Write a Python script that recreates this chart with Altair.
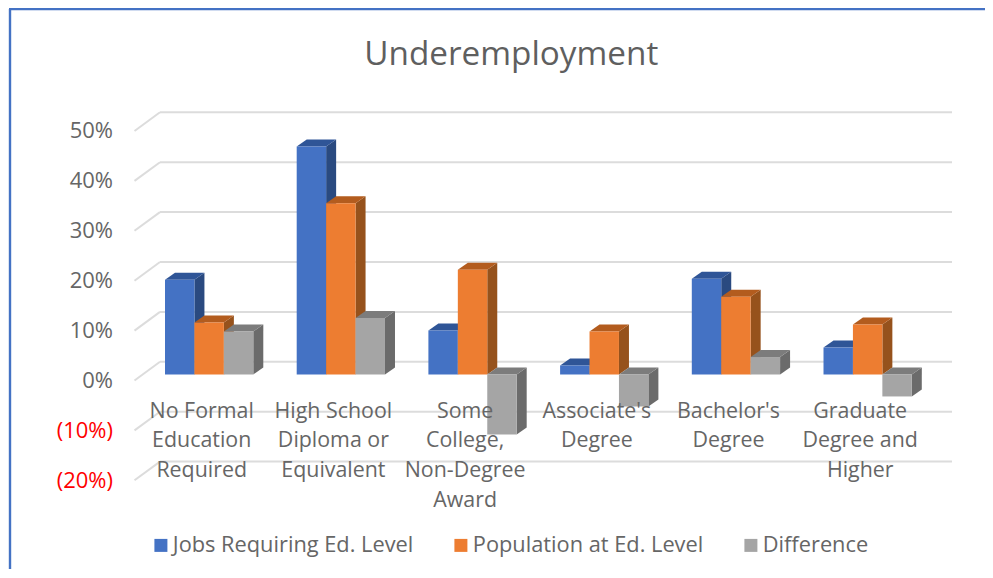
import altair as alt
import pandas as pd

categories = ["No Formal\nEducation\nRequired", "High School\nDiploma or\nEquivalent",
              "Some\nCollege,\nNon-Degree\nAward", "Associate's\nDegree",
              "Bachelor's\nDegree", "Graduate\nDegree and\nHigher"]
series_names = ["Jobs Requiring Ed. Level", "Population at Ed. Level", "Difference"]
jobs = [19.0, 45.7, 8.8, 1.8, 19.2, 5.4]
population = [10.4, 34.3, 21.0, 8.6, 15.6, 10.0]
difference = [8.6, 11.3, -12.0, -6.4, 3.5, -4.4]
grid_levels = [-20, -10, 0, 10, 20, 30, 40, 50]
front_colors = ["#4472C4", "#ED7D31", "#A5A5A5"]
top_colors = ["#2F5597", "#B35C1E", "#7C7C7C"]
side_colors = ["#2A4A80", "#96521C", "#6B6B6B"]

FONT = "Open Sans"
TEXT = "#666666"
W, H = 817.5, 349.3
PAD = dict(left=126.5, top=123, right=33, bottom=89)
PX_X = 131.7          # pixels per category
PX_Y = H / 70         # pixels per percent
x_dom = [(134.5 - 201.7) / PX_X, (952 - 201.7) / PX_X]
y_dom = [-20, 50]
xs = alt.Scale(domain=x_dom, nice=False, zero=False)
ys = alt.Scale(domain=y_dom, nice=False, zero=False)

plane = 6.0 / PX_Y       # bar front sits this far above the axis plane
back = 18.7 / PX_Y       # wall depth in y
wall_dx = 25.5 / PX_X
bar_w = 29.43 / PX_X
dep_x = 10.0 / PX_X
dep_y = 7.0 / PX_Y
group_off = (165 - 201.7) / PX_X

fronts, sides, tops = [], [], []
for s, vals in enumerate([jobs, population, difference]):
    for i, v in enumerate(vals):
        x0 = i + group_off + s * bar_w
        x1 = x0 + bar_w
        lo = min(0, v) + plane
        hi = max(0, v) + plane
        fronts.append(dict(s=s, name=series_names[s], x=x0, x2=x1, y=lo, y2=hi))
        sides += [dict(s=s, bar=i, x=x1, y=lo, y2=hi),
                  dict(s=s, bar=i, x=x1 + dep_x, y=lo + dep_y, y2=hi + dep_y)]
        tops += [dict(s=s, bar=i, x=x0, y=hi, y2=hi),
                 dict(s=s, bar=i, x=x0 + dep_x, y=hi, y2=hi + dep_y),
                 dict(s=s, bar=i, x=x1, y=hi, y2=hi + dep_y),
                 dict(s=s, bar=i, x=x1 + dep_x, y=hi + dep_y, y2=hi + dep_y)]
fronts, sides, tops = map(pd.DataFrame, (fronts, sides, tops))

grid = pd.DataFrame([dict(v=g, yb=g + back, x0=x_dom[0], xb=x_dom[0] + wall_dx, x1=x_dom[1])
                     for g in grid_levels])
slant = alt.Chart(grid).mark_rule(color="#DCDCDC", strokeWidth=2).encode(
    x=alt.X("x0:Q", scale=xs, axis=None), x2="xb:Q",
    y=alt.Y("v:Q", scale=ys, axis=alt.Axis(
        values=grid_levels, title=None, grid=False, domain=False, ticks=False,
        labelPadding=22, labelFontSize=22, labelFont=FONT,
        labelColor=alt.condition("datum.value < 0", alt.value("#FF0000"), alt.value(TEXT)),
        labelExpr="datum.value < 0 ? '(' + abs(datum.value) + '%)\u2009' : datum.value + '%'")),
    y2="yb:Q")
flat = alt.Chart(grid).mark_rule(color="#DCDCDC", strokeWidth=2).encode(
    x=alt.X("xb:Q", scale=xs, axis=None), x2="x1:Q",
    y=alt.Y("yb:Q", scale=ys, axis=None))

layers = [slant, flat]
for s in range(3):
    layers.append(alt.Chart(sides[sides.s == s]).mark_area(color=side_colors[s], interpolate="linear").encode(
        x=alt.X("x:Q", scale=xs, axis=None), y=alt.Y("y:Q", scale=ys, axis=None), y2="y2:Q", detail="bar:N"))
    layers.append(alt.Chart(tops[tops.s == s]).mark_area(color=top_colors[s], interpolate="linear").encode(
        x=alt.X("x:Q", scale=xs, axis=None), y=alt.Y("y:Q", scale=ys, axis=None), y2="y2:Q", detail="bar:N"))
    layers.append(alt.Chart(fronts[fronts.s == s]).mark_rect().encode(
        x=alt.X("x:Q", scale=xs, axis=None), x2="x2:Q",
        y=alt.Y("y:Q", scale=ys, axis=None), y2="y2:Q",
        color=alt.Color("name:N", scale=alt.Scale(domain=series_names, range=front_colors),
                        legend=alt.Legend(orient="none", legendX=15.5, legendY=403.5, direction="horizontal",
                                          columns=3, gridAlign="none", title=None, symbolType="square",
                                          symbolSize=169, symbolStrokeWidth=0, labelFont=FONT,
                                          labelFontSize=21.8, labelColor=TEXT, columnPadding=36,
                                          labelOffset=1, padding=0, labelLimit=400))))

labels = pd.DataFrame(dict(c=categories, x=list(range(6)), y=[-7.47] * 6))
layers.append(alt.Chart(labels).mark_text(lineBreak="\n", font=FONT, fontSize=21.4, color=TEXT, lineHeight=29.6,
                                          align="center", baseline="alphabetic").encode(
    x=alt.X("x:Q", scale=xs, axis=None), y=alt.Y("y:Q", scale=ys, axis=None), text="c:N"))

# chart frame (top and left edges)
frame = pd.DataFrame([{"a": 1}])
layers.append(alt.Chart(frame).mark_rule(color="#4472C4", strokeWidth=2.4).encode(
    x=alt.value(-124.5), y=alt.value(-122), y2=alt.value(H + PAD["bottom"])))
layers.append(alt.Chart(frame).mark_rule(color="#4472C4", strokeWidth=2.4).encode(
    x=alt.value(-125.5), x2=alt.value(W + PAD["right"]), y=alt.value(-122)))

chart = alt.layer(*layers).resolve_scale(color="shared").resolve_axis(y="independent").properties(
    width=W, height=H, padding=PAD, autosize=alt.AutoSizeParams(type="none"), background="white",
    title=alt.TitleParams("Underemployment", font=FONT, fontSize=33.3, fontWeight="normal",
                          color="#5F5F5F", anchor="middle", dx=-32, offset=0, dy=65),
).configure_view(stroke=None)

chart.save("out.html", embed_options={"renderer": "svg", "actions": False})
